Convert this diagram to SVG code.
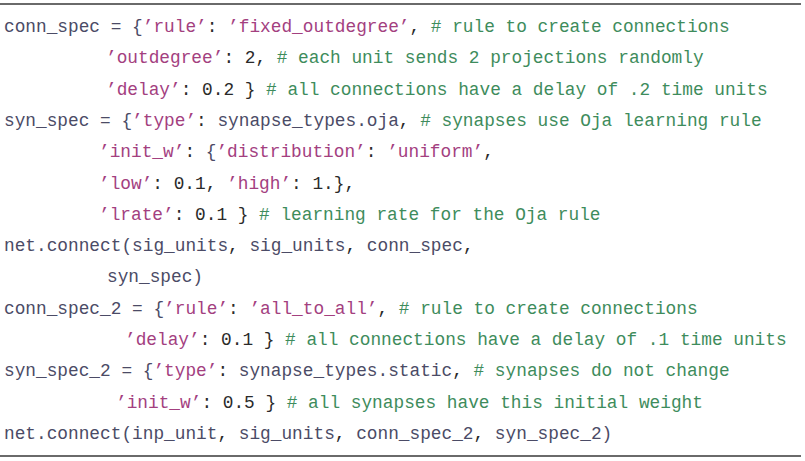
<svg xmlns="http://www.w3.org/2000/svg" width="805" height="461" viewBox="0 0 805 461">
<style>
text{font-family:"Liberation Mono","Courier New",monospace;font-size:17.8px;fill:#4b4b66;white-space:pre}
.s{fill:#a3407f}
.c{fill:#3e8c5c}
.p{fill:#2a2a2a}
.rule{stroke:#6a6a6a;stroke-width:2.2}
</style>
<rect width="805" height="461" fill="#ffffff"/>
<g id="rules">
<line class="rule" x1="0" y1="4" x2="801" y2="4"/>
<line class="rule" x1="0" y1="456" x2="801" y2="456"/>
</g>
<g id="code" xml:space="preserve">
<text x="4" y="32">conn_spec = {<tspan class="s">’rule’</tspan><tspan class="p">:</tspan> <tspan class="s">’fixed_outdegree’</tspan><tspan class="p">,</tspan> <tspan class="c"># rule to create connections</tspan></text>
<text x="106" y="63.3"><tspan class="s">’outdegree’</tspan><tspan class="p">: 2,</tspan> <tspan class="c"># each unit sends 2 projections randomly</tspan></text>
<text x="106" y="94.6"><tspan class="s">’delay’</tspan><tspan class="p">: 0.2 }</tspan> <tspan class="c"># all connections have a delay of .2 time units</tspan></text>
<text x="4" y="125.9">syn_spec = {<tspan class="s">’type’</tspan><tspan class="p">:</tspan> synapse_types.oja<tspan class="p">,</tspan> <tspan class="c"># synapses use Oja learning rule</tspan></text>
<text x="99" y="157.2"><tspan class="s">’init_w’</tspan><tspan class="p">:</tspan> {<tspan class="s">’distribution’</tspan><tspan class="p">:</tspan> <tspan class="s">’uniform’</tspan><tspan class="p">,</tspan></text>
<text x="99" y="188.5"><tspan class="s">’low’</tspan><tspan class="p">: 0.1,</tspan> <tspan class="s">’high’</tspan><tspan class="p">: 1.},</tspan></text>
<text x="99" y="219.8"><tspan class="s">’lrate’</tspan><tspan class="p">: 0.1 }</tspan> <tspan class="c"># learning rate for the Oja rule</tspan></text>
<text x="4" y="251.1">net.connect(sig_units<tspan class="p">,</tspan> sig_units<tspan class="p">,</tspan> conn_spec<tspan class="p">,</tspan></text>
<text x="107" y="282.4">syn_spec)</text>
<text x="4" y="313.7">conn_spec_2 = {<tspan class="s">’rule’</tspan><tspan class="p">:</tspan> <tspan class="s">’all_to_all’</tspan><tspan class="p">,</tspan> <tspan class="c"># rule to create connections</tspan></text>
<text x="125" y="345"><tspan class="s">’delay’</tspan><tspan class="p">: 0.1 }</tspan> <tspan class="c"># all connections have a delay of .1 time units</tspan></text>
<text x="4" y="376.3">syn_spec_2 = {<tspan class="s">’type’</tspan><tspan class="p">:</tspan> synapse_types.static<tspan class="p">,</tspan> <tspan class="c"># synapses do not change</tspan></text>
<text x="116" y="407.6"><tspan class="s">’init_w’</tspan><tspan class="p">: 0.5 }</tspan> <tspan class="c"># all synapses have this initial weight</tspan></text>
<text x="4" y="438.9">net.connect(inp_unit<tspan class="p">,</tspan> sig_units<tspan class="p">,</tspan> conn_spec_2<tspan class="p">,</tspan> syn_spec_2)</text>
</g>
</svg>
